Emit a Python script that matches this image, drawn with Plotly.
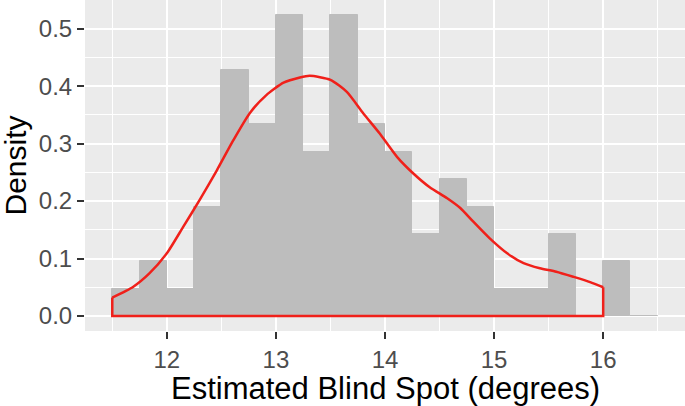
import plotly.graph_objects as go

# histogram: bins of width 0.25 starting at 11.5, counts per bin (n = 84)
bin_start = 11.5
bin_width = 0.25
counts = [1, 2, 1, 4, 9, 7, 11, 6, 11, 7, 6, 3, 5, 4, 1, 1, 3, 0, 2, 0]

# kernel density curve
dens_x = [11.5, 11.69, 11.84, 12.0, 12.15, 12.30, 12.46, 12.61, 12.76, 12.91,
          13.07, 13.22, 13.31, 13.50, 13.65, 13.80, 13.95, 14.11, 14.26, 14.41,
          14.57, 14.69, 14.81, 14.96, 15.12, 15.27, 15.42, 15.57, 15.73, 15.88, 16.0]
dens_y = [0.032, 0.0505, 0.074, 0.109, 0.155, 0.2016, 0.254, 0.306, 0.353, 0.384,
          0.406, 0.415, 0.418, 0.411, 0.390, 0.353, 0.318, 0.277, 0.248, 0.224,
          0.205, 0.188, 0.164, 0.135, 0.109, 0.092, 0.083, 0.077, 0.068, 0.059, 0.050]

x_ticks = [12, 13, 14, 15, 16]
y_ticks = [0.0, 0.1, 0.2, 0.3, 0.4, 0.5]
y_labels = ["0.0", "0.1", "0.2", "0.3", "0.4", "0.5"]

n = sum(counts)
centers = [bin_start + bin_width * (i + 0.5) for i in range(len(counts))]
density = [c / (n * bin_width) for c in counts]

font = "Liberation Sans, Arial, sans-serif"
red = "#F0201A"

fig = go.Figure()
fig.add_trace(go.Bar(x=centers, y=density, width=bin_width,
                     marker=dict(color="#BDBDBD", line=dict(color="#BDBDBD", width=1))))
# geom_density outline: smooth top plus straight sides and baseline
fig.add_trace(go.Scatter(x=dens_x, y=dens_y, mode="lines",
                         line=dict(color=red, width=2.5, shape="spline", smoothing=0.6)))
fig.add_trace(go.Scatter(x=[dens_x[-1], dens_x[-1], dens_x[0], dens_x[0]],
                         y=[dens_y[-1], 0, 0, dens_y[0]], mode="lines",
                         line=dict(color=red, width=2.5)))

xmin = bin_start
xmax = bin_start + bin_width * len(counts)
pad_x = (xmax - xmin) * 0.05
ymax = max(density)
pad_y = ymax * 0.05

fig.update_layout(
    width=685, height=406,
    margin=dict(l=85, r=0, t=0, b=75),
    plot_bgcolor="#EBEBEB", paper_bgcolor="white",
    showlegend=False, bargap=0,
    font=dict(family=font),
    xaxis=dict(range=[xmin - pad_x, xmax + pad_x], tickvals=x_ticks, automargin=False,
               ticks="outside", ticklen=7, tickwidth=2, tickcolor="#333333",
               tickfont=dict(size=24, color="#4D4D4D", family=font),
               showgrid=True, gridcolor="white", gridwidth=2, zeroline=False,
               minor=dict(showgrid=True, gridcolor="white", gridwidth=1,
                          tickvals=[11.5, 12.5, 13.5, 14.5, 15.5, 16.5])),
    yaxis=dict(range=[-pad_y, ymax + pad_y], tickvals=y_ticks, ticktext=y_labels,
               automargin=False,
               ticks="outside", ticklen=7, tickwidth=2, tickcolor="#333333",
               tickfont=dict(size=24, color="#4D4D4D", family=font),
               showgrid=True, gridcolor="white", gridwidth=2, zeroline=False,
               minor=dict(showgrid=True, gridcolor="white", gridwidth=1, dtick=0.05)),
    annotations=[
        dict(text="Estimated Blind Spot (degrees)", xref="paper", yref="paper",
             x=0.5, y=-57 / 331, xanchor="center", yanchor="middle", showarrow=False,
             font=dict(size=31, color="black", family=font)),
        dict(text="Density", xref="paper", yref="paper", textangle=-90,
             x=-70 / 600, y=0.5, xanchor="center", yanchor="middle", showarrow=False,
             font=dict(size=30, color="black", family=font)),
    ],
)

# drop the browser's default page margin so the figure fills the window
fig.write_html("out.html", config={"displayModeBar": False},
               post_script="document.body.style.margin='0';"
                           "document.body.style.overflow='hidden';")
